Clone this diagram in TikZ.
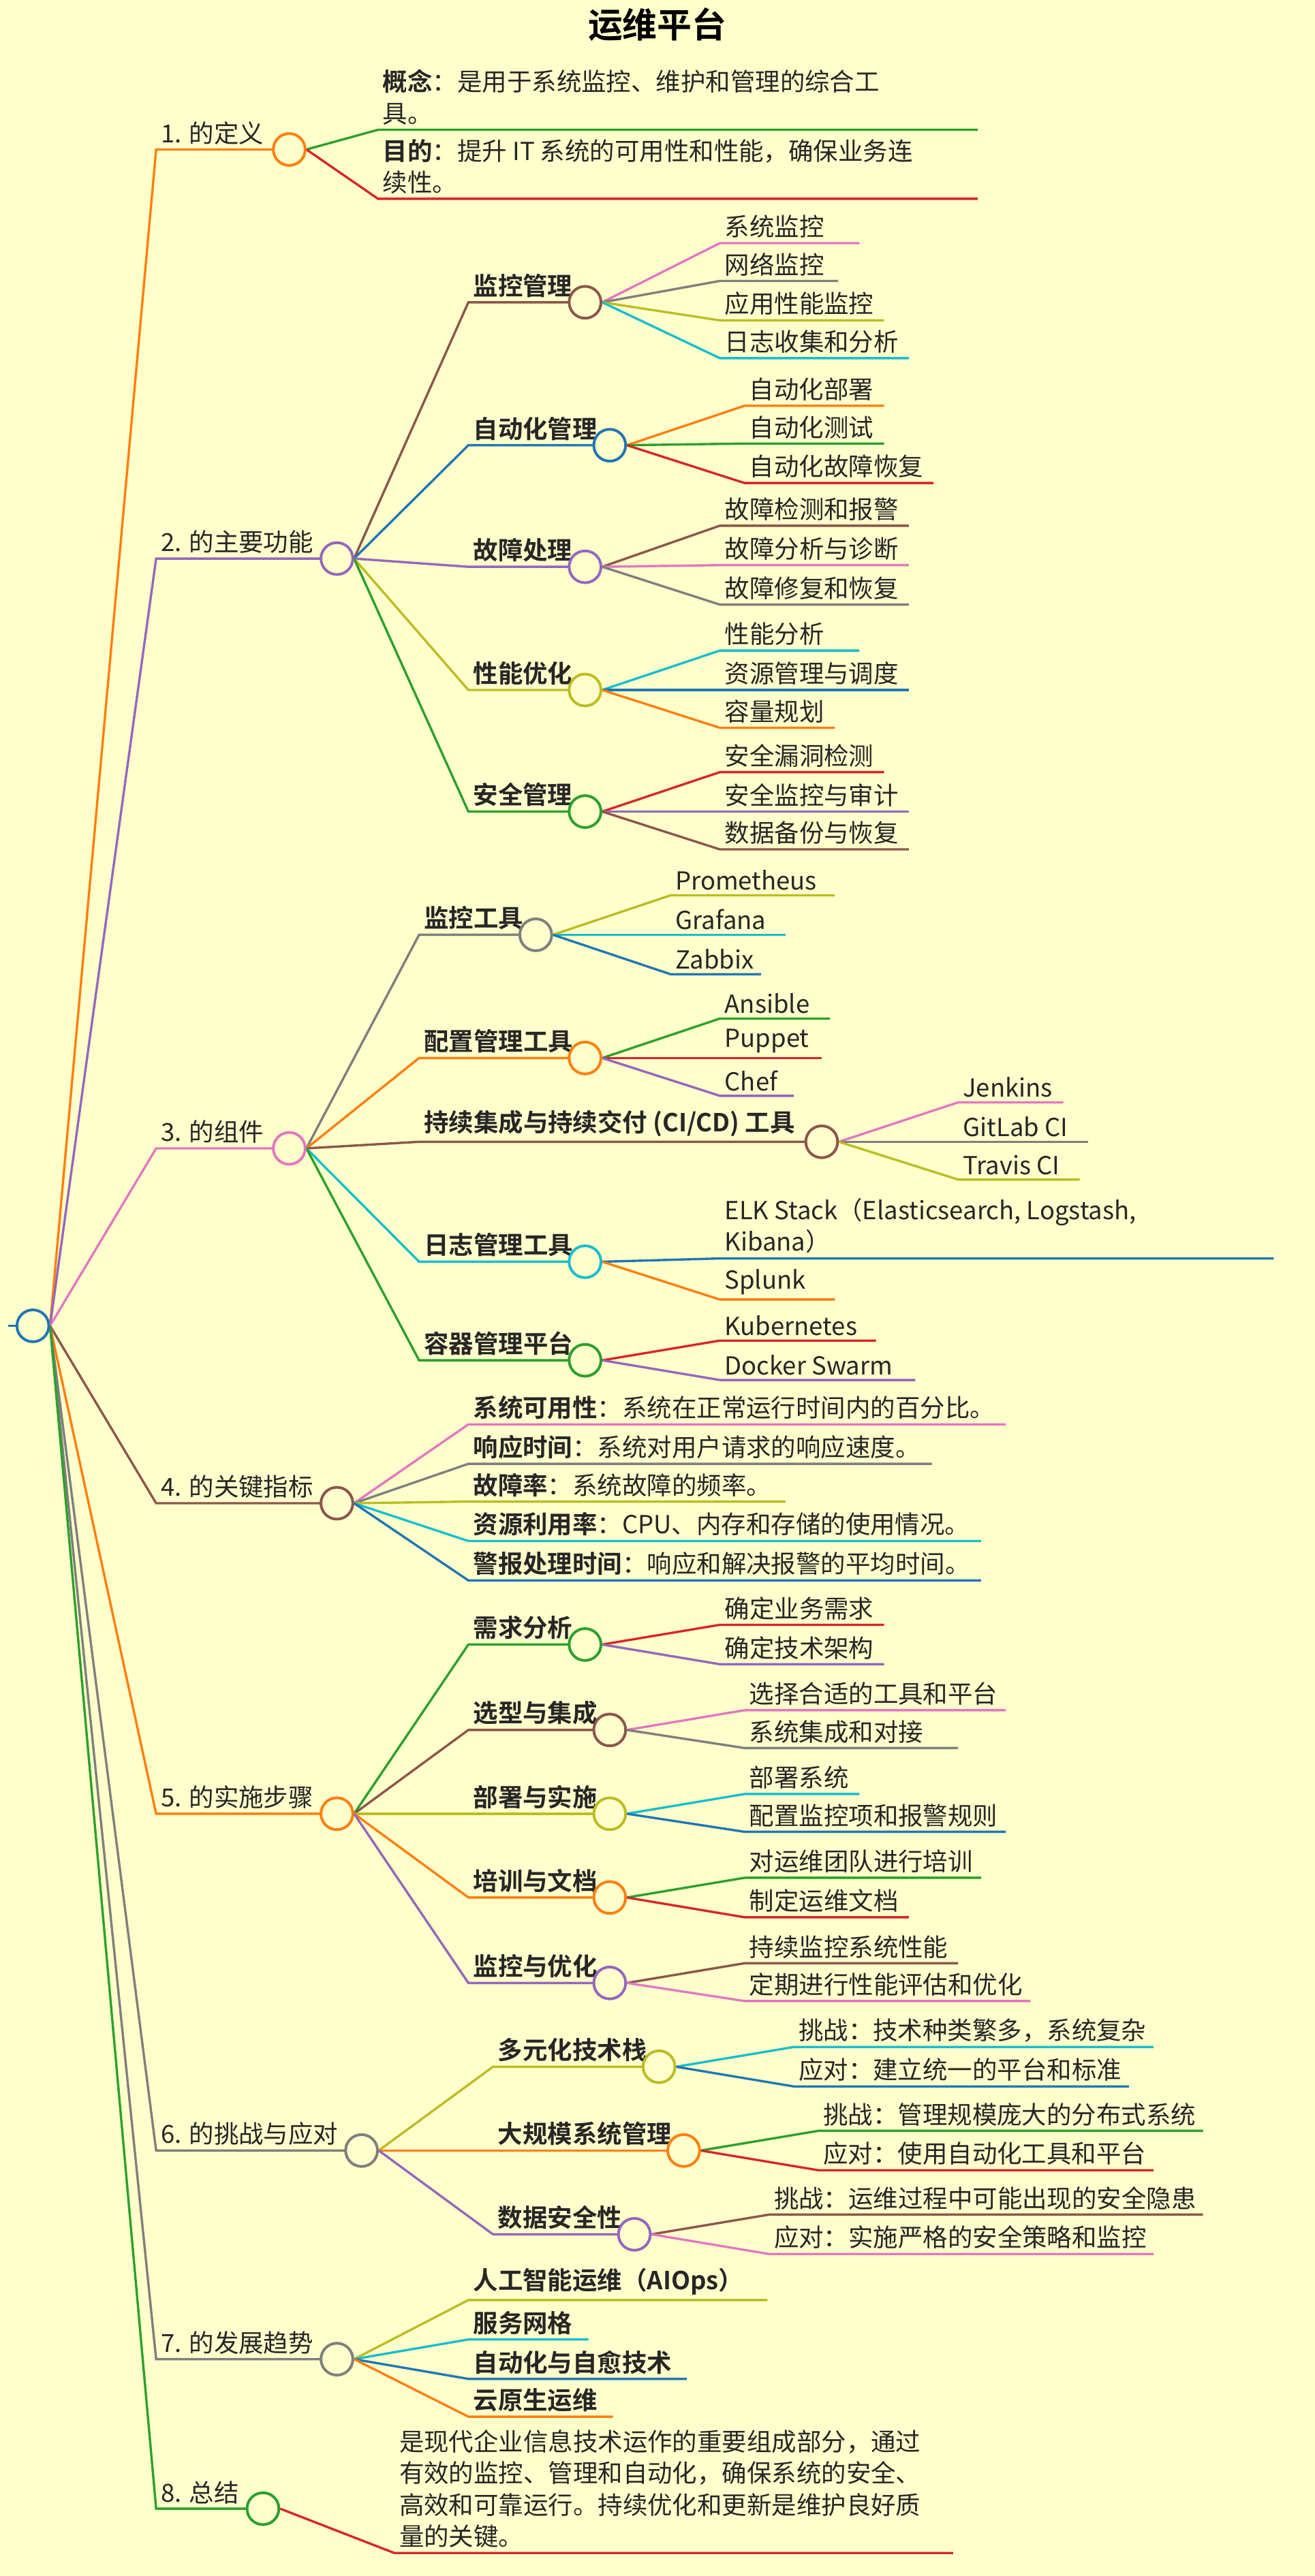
\documentclass[tikz,border=0pt]{standalone}
\usepackage{fontspec}
\setmainfont{Noto Sans CJK SC}[BoldFont={Noto Sans CJK SC Bold}]
\usetikzlibrary{calc,positioning}
\definecolor{bgc}{HTML}{FFFFCC}
\definecolor{tblue}{HTML}{1F77B4}
\definecolor{torange}{HTML}{FF7F0E}
\definecolor{tgreen}{HTML}{2CA02C}
\definecolor{tred}{HTML}{D62728}
\definecolor{tpurple}{HTML}{9467BD}
\definecolor{tbrown}{HTML}{8C564B}
\definecolor{tpink}{HTML}{E377C2}
\definecolor{tgray}{HTML}{7F7F7F}
\definecolor{tolive}{HTML}{BCBD22}
\definecolor{tcyan}{HTML}{17BECF}
\tikzset{
  hubc/.style={circle, minimum size=11pt, inner sep=0pt, fill=bgc, line width=0.9pt},
  lbl/.style={inner sep=1.5pt, font=\fontsize{8.6}{11}\selectfont, text=black!85, align=left},
  wire/.style={line width=0.8pt}
}
% hub circle: name, colour, x, y
\newcommand\hub[4]{\node[hubc, draw=#2] (#1) at (#3,#4) {};}
% branch: from, name, colour, x start, x end, y, text
\newcommand\twig[7]{%
  \coordinate (#2s) at (#4,#6);
  \coordinate (#2e) at (#5,#6);
  \draw[wire, #3] (#1.east) .. controls ($(#1.east)!0.5!(#2s)$ |- #1.east) and ($(#1.east)!0.5!(#2s)$ |- #2s) .. (#2s) -- (#2e);
  \node[lbl, anchor=south west] (#2) at (#2s) {#7};}

\begin{document}
\begin{tikzpicture}[x=0.02cm, y=-0.02cm]
  \fill[bgc] (0,0) rectangle (800,1568);
  \useasboundingbox (0,0) rectangle (800,1568);
  \node[font=\fontsize{12}{14}\selectfont\bfseries] (title) at (400,15) {运维平台};

  % root
  \hub{root}{tblue}{20}{807}
  \coordinate (rootw) at (5,807);
  \draw[wire, tblue] (rootw) -- (root);

  % 1
  \hub{b1}{torange}{176}{91}
  \twig{root}{l1}{torange}{95}{170}{91}{1. 的定义}
  \twig{b1}{b1a}{tgreen}{230}{595}{79}{\textbf{概念}：是用于系统监控、维护和管理的综合工\\具。}
  \twig{b1}{b1b}{tred}{230}{595}{121}{\textbf{目的}：提升 IT 系统的可用性和性能，确保业务连\\续性。}

  % 2
  \hub{b2}{tpurple}{205}{340}
  \twig{root}{l2}{tpurple}{95}{199}{340}{2. 的主要功能}
  \hub{b21}{tbrown}{356}{184}
  \hub{b22}{tblue}{371}{271}
  \hub{b23}{tpurple}{356}{345}
  \hub{b24}{tolive}{356}{420}
  \hub{b25}{tgreen}{356}{494}
  \twig{b2}{l21}{tbrown}{285}{350}{184}{\textbf{监控管理}}
  \twig{b2}{l22}{tblue}{285}{365}{271}{\textbf{自动化管理}}
  \twig{b2}{l23}{tpurple}{285}{350}{345}{\textbf{故障处理}}
  \twig{b2}{l24}{tolive}{285}{350}{420}{\textbf{性能优化}}
  \twig{b2}{l25}{tgreen}{285}{350}{494}{\textbf{安全管理}}
  \twig{b21}{b21a}{tpink}{438}{523}{148}{系统监控}
  \twig{b21}{b21b}{tgray}{438}{510}{171}{网络监控}
  \twig{b21}{b21c}{tolive}{438}{538}{195}{应用性能监控}
  \twig{b21}{b21d}{tcyan}{438}{553}{218}{日志收集和分析}
  \twig{b22}{b22a}{torange}{453}{538}{247}{自动化部署}
  \twig{b22}{b22b}{tgreen}{453}{538}{270}{自动化测试}
  \twig{b22}{b22c}{tred}{453}{568}{294}{自动化故障恢复}
  \twig{b23}{b23a}{tbrown}{438}{553}{320}{故障检测和报警}
  \twig{b23}{b23b}{tpink}{438}{553}{344}{故障分析与诊断}
  \twig{b23}{b23c}{tgray}{438}{553}{368}{故障修复和恢复}
  \twig{b24}{b24a}{tcyan}{438}{523}{396}{性能分析}
  \twig{b24}{b24b}{tblue}{438}{553}{420}{资源管理与调度}
  \twig{b24}{b24c}{torange}{438}{508}{443}{容量规划}
  \twig{b25}{b25a}{tred}{438}{538}{470}{安全漏洞检测}
  \twig{b25}{b25b}{tpurple}{438}{553}{494}{安全监控与审计}
  \twig{b25}{b25c}{tbrown}{438}{553}{517}{数据备份与恢复}

  % 3
  \hub{b3}{tpink}{176}{699}
  \twig{root}{l3}{tpink}{95}{170}{699}{3. 的组件}
  \hub{b31}{tgray}{326}{569}
  \hub{b32}{torange}{356}{644}
  \hub{b33}{tbrown}{500}{695}
  \hub{b34}{tcyan}{356}{768}
  \hub{b35}{tgreen}{356}{828}
  \twig{b3}{l31}{tgray}{255}{320}{569}{\textbf{监控工具}}
  \twig{b3}{l32}{torange}{255}{350}{644}{\textbf{配置管理工具}}
  \twig{b3}{l33}{tbrown}{255}{494}{695}{\textbf{持续集成与持续交付 (CI/CD) 工具}}
  \twig{b3}{l34}{tcyan}{255}{350}{768}{\textbf{日志管理工具}}
  \twig{b3}{l35}{tgreen}{255}{350}{828}{\textbf{容器管理平台}}
  \twig{b31}{b31a}{tolive}{408}{508}{545}{Prometheus}
  \twig{b31}{b31b}{tcyan}{408}{478}{569}{Grafana}
  \twig{b31}{b31c}{tblue}{408}{463}{593}{Zabbix}
  \twig{b32}{b32a}{tgreen}{438}{505}{620}{Ansible}
  \twig{b32}{b32b}{tred}{438}{500}{644}{Puppet}
  \twig{b32}{b32c}{tpurple}{438}{483}{667}{Chef}
  \twig{b33}{b33a}{tpink}{583}{647}{671}{Jenkins}
  \twig{b33}{b33b}{tgray}{583}{662}{695}{GitLab CI}
  \twig{b33}{b33c}{tolive}{583}{657}{718}{Travis CI}
  \twig{b34}{b34a}{tblue}{438}{775}{766}{ELK Stack（Elasticsearch, Logstash,\\Kibana）}
  \twig{b34}{b34b}{torange}{438}{508}{791}{Splunk}
  \twig{b35}{b35a}{tred}{438}{533}{816}{Kubernetes}
  \twig{b35}{b35b}{tpurple}{438}{557}{840}{Docker Swarm}

  % 4
  \hub{b4}{tbrown}{205}{915}
  \twig{root}{l4}{tbrown}{95}{199}{915}{4. 的关键指标}
  \twig{b4}{b4a}{tpink}{285}{612}{867}{\textbf{系统可用性}：系统在正常运行时间内的百分比。}
  \twig{b4}{b4b}{tgray}{285}{567}{891}{\textbf{响应时间}：系统对用户请求的响应速度。}
  \twig{b4}{b4c}{tolive}{285}{478}{914}{\textbf{故障率}：系统故障的频率。}
  \twig{b4}{b4d}{tcyan}{285}{597}{938}{\textbf{资源利用率}：CPU、内存和存储的使用情况。}
  \twig{b4}{b4e}{tblue}{285}{597}{962}{\textbf{警报处理时间}：响应和解决报警的平均时间。}

  % 5
  \hub{b5}{torange}{205}{1104}
  \twig{root}{l5}{torange}{95}{199}{1104}{5. 的实施步骤}
  \hub{b51}{tgreen}{356}{1001}
  \hub{b52}{tbrown}{371}{1053}
  \hub{b53}{tolive}{371}{1104}
  \hub{b54}{torange}{371}{1155}
  \hub{b55}{tpurple}{371}{1207}
  \twig{b5}{l51}{tgreen}{285}{350}{1001}{\textbf{需求分析}}
  \twig{b5}{l52}{tbrown}{285}{365}{1053}{\textbf{选型与集成}}
  \twig{b5}{l53}{tolive}{285}{365}{1104}{\textbf{部署与实施}}
  \twig{b5}{l54}{torange}{285}{365}{1155}{\textbf{培训与文档}}
  \twig{b5}{l55}{tpurple}{285}{365}{1207}{\textbf{监控与优化}}
  \twig{b51}{b51a}{tred}{438}{538}{989}{确定业务需求}
  \twig{b51}{b51b}{tpurple}{438}{538}{1013}{确定技术架构}
  \twig{b52}{b52a}{tpink}{453}{612}{1041}{选择合适的工具和平台}
  \twig{b52}{b52b}{tgray}{453}{583}{1064}{系统集成和对接}
  \twig{b53}{b53a}{tcyan}{453}{523}{1092}{部署系统}
  \twig{b53}{b53b}{tblue}{453}{612}{1115}{配置监控项和报警规则}
  \twig{b54}{b54a}{tgreen}{453}{597}{1143}{对运维团队进行培训}
  \twig{b54}{b54b}{tred}{453}{553}{1167}{制定运维文档}
  \twig{b55}{b55a}{tbrown}{453}{583}{1195}{持续监控系统性能}
  \twig{b55}{b55b}{tpink}{453}{627}{1218}{定期进行性能评估和优化}

  % 6
  \hub{b6}{tgray}{220}{1309}
  \twig{root}{l6}{tgray}{95}{214}{1309}{6. 的挑战与应对}
  \hub{b61}{tolive}{401}{1258}
  \hub{b62}{torange}{416}{1309}
  \hub{b63}{tpurple}{386}{1360}
  \twig{b6}{l61}{tolive}{300}{395}{1258}{\textbf{多元化技术栈}}
  \twig{b6}{l62}{torange}{300}{410}{1309}{\textbf{大规模系统管理}}
  \twig{b6}{l63}{tpurple}{300}{380}{1360}{\textbf{数据安全性}}
  \twig{b61}{b61a}{tcyan}{483}{702}{1246}{挑战：技术种类繁多，系统复杂}
  \twig{b61}{b61b}{tblue}{483}{687}{1270}{应对：建立统一的平台和标准}
  \twig{b62}{b62a}{tgreen}{498}{732}{1297}{挑战：管理规模庞大的分布式系统}
  \twig{b62}{b62b}{tred}{498}{702}{1321}{应对：使用自动化工具和平台}
  \twig{b63}{b63a}{tbrown}{468}{732}{1348}{挑战：运维过程中可能出现的安全隐患}
  \twig{b63}{b63b}{tpink}{468}{702}{1372}{应对：实施严格的安全策略和监控}

  % 7
  \hub{b7}{tgray}{205}{1436}
  \twig{root}{l7}{tgray}{95}{199}{1436}{7. 的发展趋势}
  \twig{b7}{b7a}{tolive}{285}{467}{1400}{\textbf{人工智能运维（AIOps）}}
  \twig{b7}{b7b}{tcyan}{285}{358}{1424}{\textbf{服务网格}}
  \twig{b7}{b7c}{tblue}{285}{418}{1448}{\textbf{自动化与自愈技术}}
  \twig{b7}{b7d}{torange}{285}{373}{1471}{\textbf{云原生运维}}

  % 8
  \hub{b8}{tgreen}{160}{1527}
  \twig{root}{l8}{tgreen}{95}{154}{1527}{8. 总结}
  \twig{b8}{b8a}{tred}{240}{580}{1554}{是现代企业信息技术运作的重要组成部分，通过\\有效的监控、管理和自动化，确保系统的安全、\\高效和可靠运行。持续优化和更新是维护良好质\\量的关键。}

  % hubs on top of wires
  \foreach \h/\c in {root/tblue,b1/torange,b2/tpurple,b21/tbrown,b22/tblue,b23/tpurple,b24/tolive,b25/tgreen,
    b3/tpink,b31/tgray,b32/torange,b33/tbrown,b34/tcyan,b35/tgreen,b4/tbrown,b5/torange,b51/tgreen,b52/tbrown,
    b53/tolive,b54/torange,b55/tpurple,b6/tgray,b61/tolive,b62/torange,b63/tpurple,b7/tgray,b8/tgreen}
    \node[hubc, draw=\c] at (\h) {};
\end{tikzpicture}
\end{document}
